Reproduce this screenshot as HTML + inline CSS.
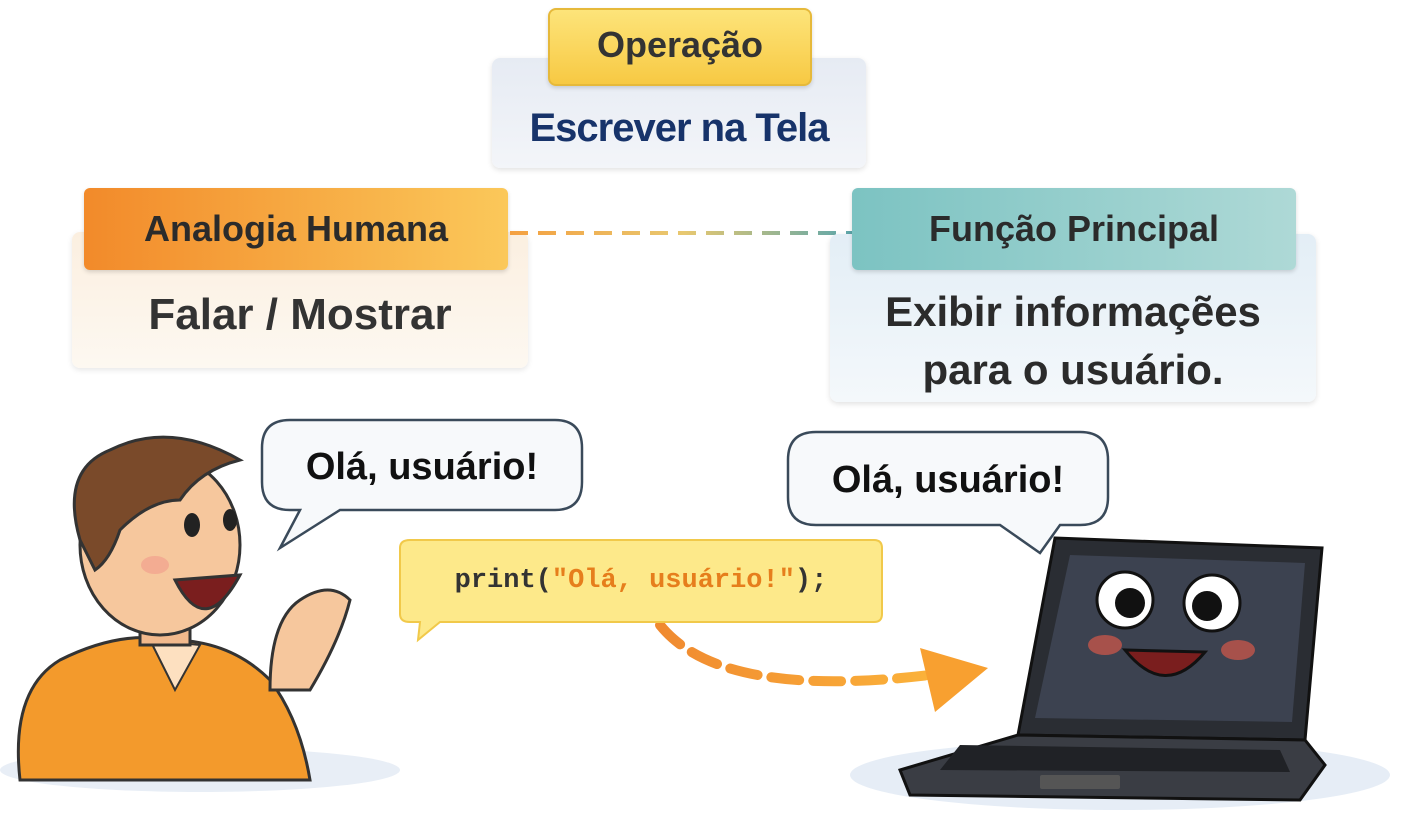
<!DOCTYPE html>
<html><head><meta charset="utf-8"><style>
html,body{margin:0;padding:0;background:#fff;}
body{width:1407px;height:827px;position:relative;overflow:hidden;font-family:"Liberation Sans","DejaVu Sans",sans-serif;}
.abs{position:absolute;box-sizing:border-box;}
.t{position:absolute;text-align:center;font-weight:bold;white-space:nowrap;}
</style></head><body>

<div class="abs" style="left:492px;top:58px;width:374px;height:110px;background:linear-gradient(#e6ebf3,#f3f5f9);border-radius:8px;box-shadow:0 2px 6px rgba(0,0,0,.12)"></div>
<div class="abs" style="left:548px;top:8px;width:264px;height:78px;background:linear-gradient(#fde47a,#f7c943);border-radius:8px;border:2px solid #e6b93a;box-shadow:0 2px 4px rgba(0,0,0,.15)"></div>
<div class="t" style="left:548px;top:24px;width:264px;font-size:36px;color:#333">Operação</div>
<div class="t" style="left:492px;top:106px;width:374px;font-size:40px;color:#17336a;letter-spacing:-1px">Escrever na Tela</div>

<div class="abs" style="left:72px;top:232px;width:456px;height:136px;background:linear-gradient(#fbefe0,#fdf8f1);border-radius:8px;box-shadow:0 2px 6px rgba(0,0,0,.1)"></div>
<div class="abs" style="left:84px;top:188px;width:424px;height:82px;background:linear-gradient(90deg,#f28a2a,#fbc85a);border-radius:6px;box-shadow:0 2px 4px rgba(0,0,0,.15)"></div>
<div class="t" style="left:84px;top:208px;width:424px;font-size:36px;color:#2b2b2b">Analogia Humana</div>
<div class="t" style="left:72px;top:290px;width:456px;font-size:44px;color:#333">Falar / Mostrar</div>

<svg class="abs" style="left:0;top:0" width="1407" height="827">
<defs>
<linearGradient id="dg" gradientUnits="userSpaceOnUse" x1="510" y1="0" x2="856" y2="0"><stop offset="0" stop-color="#f4a040"/><stop offset="0.5" stop-color="#e8c870"/><stop offset="1" stop-color="#5aa6ad"/></linearGradient>
<linearGradient id="ag" gradientUnits="userSpaceOnUse" x1="660" y1="0" x2="930" y2="0"><stop offset="0" stop-color="#f08a30"/><stop offset="1" stop-color="#fbb23a"/></linearGradient>
</defs>
<line x1="510" y1="233" x2="856" y2="233" stroke="url(#dg)" stroke-width="4" stroke-dasharray="18 10"/>
<path d="M660 625 Q720 700 930 675" fill="none" stroke="url(#ag)" stroke-width="10" stroke-dasharray="28 14" stroke-linecap="round"/>
<path d="M920 648 L988 668 L935 712 Z" fill="#f8a030"/>
</svg>

<div class="abs" style="left:830px;top:234px;width:486px;height:168px;background:linear-gradient(#e3eef6,#f4f8fb);border-radius:8px;box-shadow:0 2px 6px rgba(0,0,0,.12)"></div>
<div class="abs" style="left:852px;top:188px;width:444px;height:82px;background:linear-gradient(90deg,#7cc3c2,#aed9d6);border-radius:6px;box-shadow:0 2px 4px rgba(0,0,0,.15)"></div>
<div class="t" style="left:852px;top:208px;width:444px;font-size:36px;color:#2b2b2b">Função Principal</div>
<div class="t" style="left:830px;top:288px;width:486px;font-size:42px;color:#2b2b2b">Exibir informaçẽes</div>
<div class="t" style="left:830px;top:346px;width:486px;font-size:42px;color:#2b2b2b">para o usuário.</div>

<svg class="abs" style="left:0;top:0" width="1407" height="827">
<path d="M290 420 H555 Q582 420 582 448 V482 Q582 510 555 510 H340 L280 548 L300 510 H290 Q262 510 262 482 V448 Q262 420 290 420Z" fill="#f7f9fb" stroke="#3a4a5a" stroke-width="2.5"/>
<path d="M816 432 H1080 Q1108 432 1108 460 V497 Q1108 525 1080 525 H1060 L1040 553 L1000 525 H816 Q788 525 788 497 V460 Q788 432 816 432Z" fill="#f7f9fb" stroke="#3a4a5a" stroke-width="2.5"/>
<path d="M410 540 H874 Q882 540 882 548 V614 Q882 622 874 622 H440 L418 640 L420 622 H410 Q400 622 400 614 V548 Q400 540 410 540Z" fill="#fde98a" stroke="#f1c94a" stroke-width="2"/>
</svg>
<div class="t" style="left:262px;top:446px;width:320px;font-size:38px;color:#111">Olá, usuário!</div>
<div class="t" style="left:788px;top:459px;width:320px;font-size:38px;color:#111">Olá, usuário!</div>
<div class="t" style="left:400px;top:566px;width:482px;font-size:27px;font-family:'Liberation Mono',monospace;color:#333">print(<span style="color:#e67e1c">"Olá, usuário!"</span>);</div>

<svg class="abs" style="left:0;top:0" width="1407" height="827">
<ellipse cx="200" cy="770" rx="200" ry="22" fill="#e8eef6"/>
<path d="M20 780 Q10 690 60 660 Q120 630 170 640 Q230 640 270 680 Q300 720 310 780 Z" fill="#f39a2c" stroke="#333" stroke-width="3"/>
<path d="M150 640 L175 690 L200 645 Z" fill="#fde0c0" stroke="#333" stroke-width="2"/>
<rect x="140" y="590" width="50" height="55" fill="#f2b98c" stroke="#333" stroke-width="3"/>
<ellipse cx="160" cy="545" rx="80" ry="90" fill="#f6c79d" stroke="#333" stroke-width="3"/>
<path d="M80 540 Q60 470 110 450 Q170 420 240 460 Q200 470 180 500 Q150 500 120 530 Q110 560 95 570 Z" fill="#7a4a2a" stroke="#333" stroke-width="3"/>
<ellipse cx="192" cy="525" rx="8" ry="12" fill="#222"/>
<ellipse cx="230" cy="520" rx="7" ry="11" fill="#222"/>
<path d="M175 580 Q205 640 240 575 Z" fill="#7a1e1e" stroke="#333" stroke-width="3"/>
<ellipse cx="155" cy="565" rx="14" ry="9" fill="#f29a8a" opacity=".6"/>
<path d="M270 690 Q270 620 300 600 Q330 580 350 600 Q340 640 310 690 Z" fill="#f6c79d" stroke="#333" stroke-width="3"/>
</svg>

<svg class="abs" style="left:0;top:0" width="1407" height="827">
<ellipse cx="1120" cy="775" rx="270" ry="35" fill="#e6edf6"/>
<path d="M1055 538 L1322 548 L1305 740 L1018 735 Z" fill="#2a2d33" stroke="#111" stroke-width="3"/>
<path d="M1070 555 L1305 563 L1292 722 L1035 718 Z" fill="#3c4250"/>
<path d="M1018 735 L1305 740 L1325 765 L1300 800 L910 795 L900 770 Z" fill="#3a3d44" stroke="#111" stroke-width="3"/>
<path d="M960 745 L1280 750 L1290 772 L940 770 Z" fill="#202226"/>
<rect x="1040" y="775" width="80" height="14" fill="#555" rx="2"/>
<circle cx="1125" cy="600" r="28" fill="#fff" stroke="#111" stroke-width="3"/>
<circle cx="1130" cy="603" r="15" fill="#111"/>
<circle cx="1212" cy="603" r="28" fill="#fff" stroke="#111" stroke-width="3"/>
<circle cx="1207" cy="606" r="15" fill="#111"/>
<ellipse cx="1105" cy="645" rx="17" ry="10" fill="#c2554a" opacity=".8"/>
<ellipse cx="1238" cy="650" rx="17" ry="10" fill="#c2554a" opacity=".8"/>
<path d="M1125 650 Q1165 700 1205 652 Z" fill="#7a1e1e" stroke="#111" stroke-width="3"/>
</svg>

</body></html>
